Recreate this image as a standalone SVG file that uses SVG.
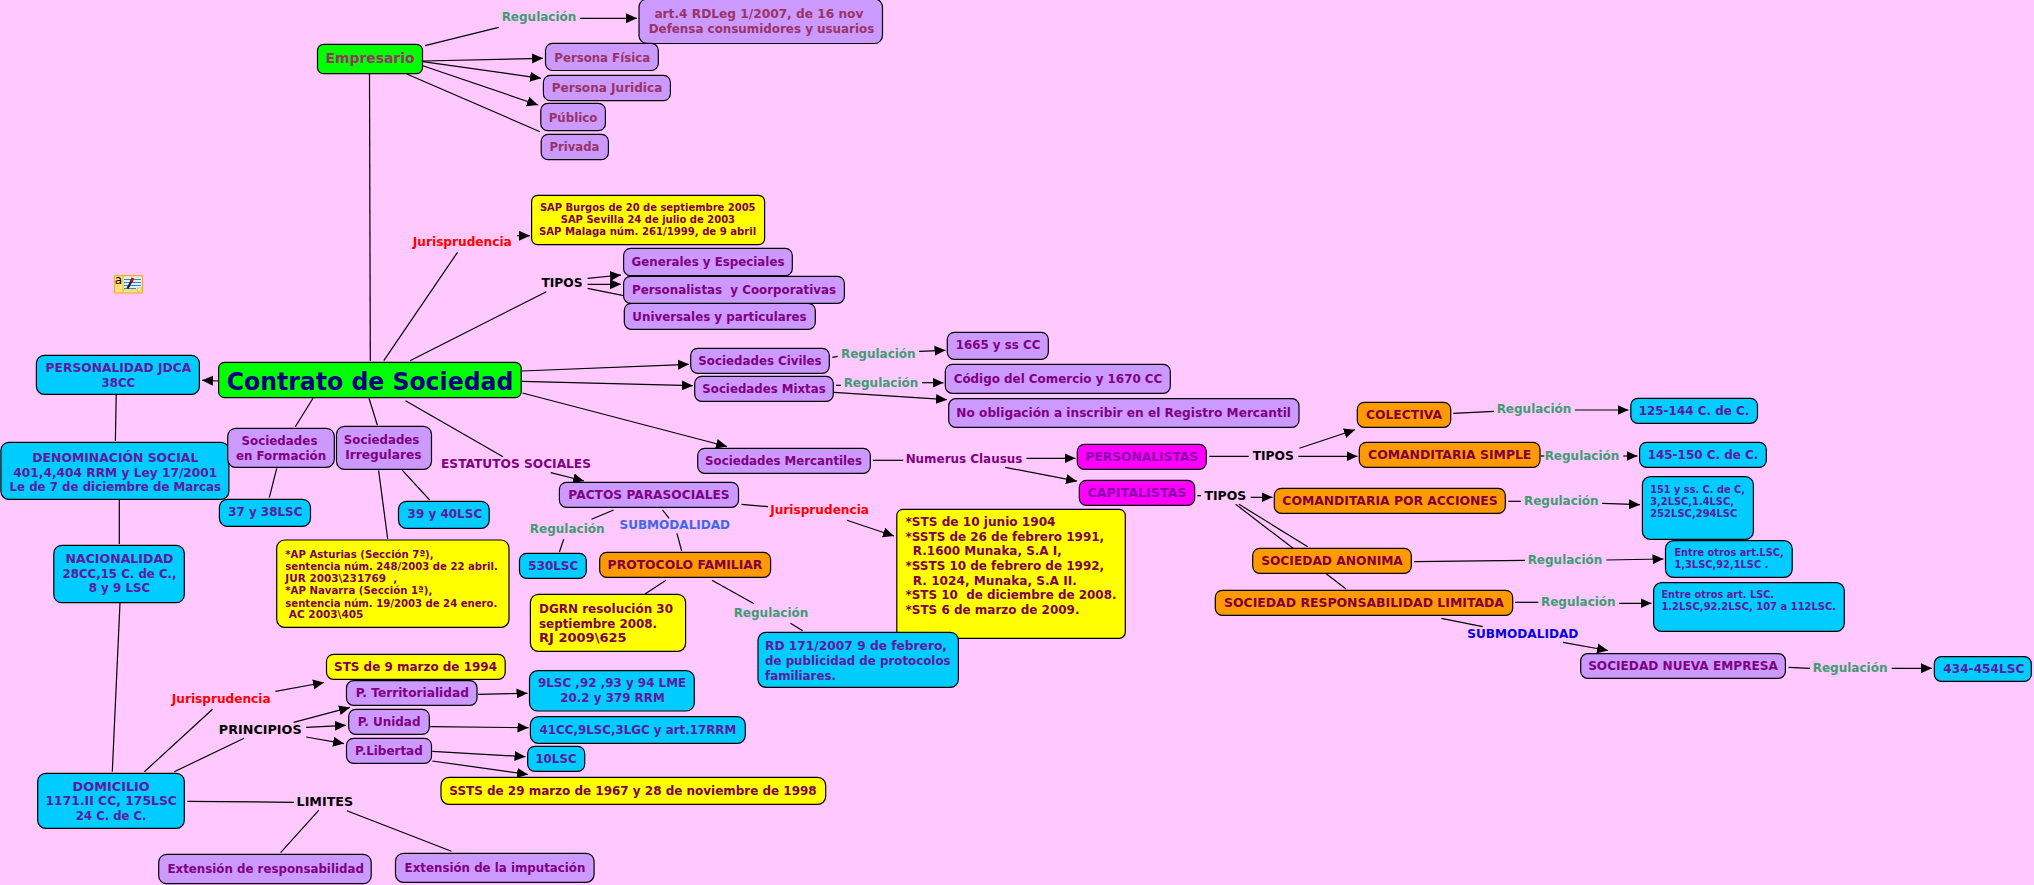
<svg xmlns="http://www.w3.org/2000/svg" width="2034" height="885" viewBox="0 0 2034 885">
<style>
text{font-family:"DejaVu Sans","Liberation Sans",sans-serif;font-weight:bold;font-size:12px;text-anchor:middle}
.b{stroke:#000;stroke-width:1.2}
.pu{fill:#CC99FF}.bl{fill:#00CCFF}.ye{fill:#FFFF00}.gr{fill:#00FF00}.or{fill:#FF9900}.ma{fill:#FF00FF}
.tp{fill:#800080}.te{fill:#993366}.tb{fill:#5F1A9C}.ty{fill:#800050}.to{fill:#800040}.tm{fill:#8A00A8}
.reg{fill:#3F9B72}.jur{fill:#FF0000}.blk{fill:#000}.sub{fill:#3F66EE}.sub2{fill:#0000E6}
.l{text-anchor:start}.s{font-size:10px}
#conn line{stroke:#000;stroke-width:1.2}
#conn line.a{marker-end:url(#arr)}
</style>
<defs>
<marker id="arr" markerUnits="userSpaceOnUse" markerWidth="12" markerHeight="12" refX="11" refY="6" orient="auto"><path d="M0,1 L11,6 L0,11 z" fill="#000"/></marker>
</defs>
<rect width="2034" height="885" fill="#FFC9FF"/>
<g id="conn">
<line x1="425" y1="45.7" x2="498.7" y2="27.3"/>
<line class="a" x1="580" y1="18.3" x2="637" y2="18.3"/>
<line class="a" x1="422.8" y1="61" x2="543" y2="58.3"/>
<line class="a" x1="422.8" y1="61.7" x2="541" y2="78.3"/>
<line class="a" x1="422.8" y1="65.7" x2="538" y2="105"/>
<line x1="406.8" y1="74" x2="540" y2="131.7"/>
<line x1="369.5" y1="74" x2="370.3" y2="361"/>
<line x1="383.8" y1="360.7" x2="457.5" y2="252.3"/>
<line class="a" x1="517" y1="235.7" x2="530" y2="235.7"/>
<line x1="410" y1="360.7" x2="546.4" y2="291.7"/>
<line class="a" x1="587.6" y1="278.3" x2="621" y2="275"/>
<line class="a" x1="587.6" y1="284.3" x2="621" y2="284.3"/>
<line x1="587.6" y1="288.3" x2="623.6" y2="295.7"/>
<line class="a" x1="218.6" y1="381" x2="202" y2="380.3"/>
<line x1="116.2" y1="395" x2="115.4" y2="441"/>
<line x1="313" y1="398.3" x2="295.3" y2="426.7"/>
<line x1="369" y1="398.3" x2="377.3" y2="425"/>
<line x1="405.5" y1="400.7" x2="503" y2="456.7"/>
<line class="a" x1="550.7" y1="472.7" x2="584" y2="481"/>
<line x1="276.7" y1="468.3" x2="269.3" y2="497.7"/>
<line x1="402.4" y1="470.3" x2="429.7" y2="500"/>
<line x1="378.6" y1="470.3" x2="387.7" y2="539"/>
<line x1="119.3" y1="500" x2="119.3" y2="544"/>
<line x1="120" y1="602.7" x2="112.3" y2="771.7"/>
<line x1="144.4" y1="771.7" x2="212.5" y2="709.3"/>
<line class="a" x1="275.4" y1="691.3" x2="324" y2="682.5"/>
<line x1="174.3" y1="771.7" x2="244.1" y2="738.3"/>
<line class="a" x1="293.6" y1="722.3" x2="350" y2="707.4"/>
<line class="a" x1="306.2" y1="727.3" x2="346" y2="725.3"/>
<line class="a" x1="306.2" y1="737" x2="344" y2="743.6"/>
<line class="a" x1="477.9" y1="694.3" x2="527.5" y2="693.3"/>
<line class="a" x1="430.2" y1="726.7" x2="528.5" y2="727.7"/>
<line class="a" x1="432.3" y1="751.3" x2="525.5" y2="756.7"/>
<line class="a" x1="432.3" y1="761" x2="528" y2="774.5"/>
<line x1="187.3" y1="801.3" x2="294" y2="802.3"/>
<line x1="318.7" y1="810.3" x2="280.6" y2="852.7"/>
<line x1="346.9" y1="810.7" x2="451.4" y2="851.3"/>
<line class="a" x1="522.5" y1="393" x2="727" y2="446.5"/>
<line x1="873" y1="460.3" x2="903.3" y2="460.3"/>
<line class="a" x1="1026.4" y1="458.3" x2="1075.5" y2="458.3"/>
<line class="a" x1="1005.2" y1="467.3" x2="1077" y2="481.2"/>
<line x1="741.5" y1="504.3" x2="768" y2="506.7"/>
<line class="a" x1="846.9" y1="520.3" x2="894" y2="536"/>
<line x1="613.6" y1="510" x2="591.5" y2="519.3"/>
<line x1="563.7" y1="539.3" x2="559.4" y2="552"/>
<line x1="662.6" y1="510" x2="669.1" y2="518.3"/>
<line x1="676.9" y1="533.3" x2="681.7" y2="551"/>
<line x1="666" y1="580.3" x2="645" y2="594"/>
<line x1="712" y1="580.3" x2="754.1" y2="603.7"/>
<line x1="790.5" y1="623.3" x2="802.7" y2="630.7"/>
<line class="a" x1="521.7" y1="371" x2="689" y2="364.3"/>
<line class="a" x1="521.7" y1="381.3" x2="693" y2="385.7"/>
<line x1="832.3" y1="357.3" x2="837.7" y2="356.3"/>
<line class="a" x1="919" y1="351.3" x2="945.5" y2="350.3"/>
<line x1="836" y1="385.3" x2="841" y2="385.3"/>
<line class="a" x1="922" y1="382.7" x2="943.5" y2="382.7"/>
<line class="a" x1="834" y1="392.3" x2="947" y2="399.7"/>
<line x1="1209.3" y1="456.3" x2="1248.7" y2="456.3"/>
<line class="a" x1="1299.3" y1="448.3" x2="1355" y2="429.7"/>
<line class="a" x1="1298.3" y1="456.3" x2="1357.5" y2="456.3"/>
<line x1="1197.3" y1="495.7" x2="1201" y2="495.7"/>
<line class="a" x1="1250.7" y1="497.3" x2="1272.5" y2="497.3"/>
<line x1="1239" y1="504.3" x2="1307.7" y2="546.7"/>
<line x1="1235.7" y1="504.3" x2="1345.7" y2="588.7"/>
<line x1="1508.3" y1="501.3" x2="1521" y2="501.3"/>
<line x1="1453.3" y1="413.3" x2="1494" y2="411.3"/>
<line x1="1414" y1="561.7" x2="1525" y2="560.3"/>
<line x1="1515" y1="602.3" x2="1538.3" y2="602.3"/>
<line x1="1441.3" y1="618.3" x2="1482.7" y2="626.7"/>
<line class="a" x1="1574.9" y1="410" x2="1628.5" y2="410"/>
<line x1="1540.5" y1="456" x2="1544.3" y2="456"/>
<line class="a" x1="1623.3" y1="456" x2="1637.5" y2="456"/>
<line class="a" x1="1602.2" y1="503.3" x2="1640" y2="504.7"/>
<line class="a" x1="1606.3" y1="560" x2="1663.5" y2="559"/>
<line class="a" x1="1619.2" y1="603.3" x2="1651.5" y2="603.3"/>
<line class="a" x1="1563" y1="642.3" x2="1608" y2="650.5"/>
<line x1="1788.5" y1="667.3" x2="1810" y2="668.3"/>
<line class="a" x1="1891.7" y1="668.3" x2="1932" y2="668.3"/>
</g>
<g id="icon">
<rect x="114.5" y="275.5" width="28" height="17.5" rx="1" fill="#FFDF80" stroke="#F2AE20" stroke-width="1.2"/>
<rect x="123.5" y="277" width="18" height="12" fill="#DDF0FF"/>
<path d="M137.5,293 L142.5,288 L137.5,288 z" fill="#FFF6C8" stroke="#F2AE20" stroke-width=".8"/>
<path d="M123,276 V292.5" stroke="#F2AE20" stroke-width=".8"/>
<path d="M124,279.5 H141 M124,282.5 H141 M124,285.5 H141 M124,288.5 H136" stroke="#2F86C8" stroke-width="1"/>
<path d="M127.5,288.5 L131.5,281" stroke="#222" stroke-width="2.2"/>
<path d="M131,282 L133,278" stroke="#B01515" stroke-width="3"/>
<text x="118.5" y="283.5" style="font-size:12px;font-weight:normal;fill:#000">a</text>
</g>
<g id="n-empresario"><rect class="b gr" x="317.5" y="44.3" width="105" height="29.4" rx="6"/><text class="te" x="370" y="62.5" style="font-size:14px" textLength="89" lengthAdjust="spacingAndGlyphs">Empresario</text></g>
<g id="n-reg0"><text class="reg" x="539" y="21">Regulación</text></g>
<g id="n-art4"><rect class="b pu" x="639" y="-1" width="243.5" height="44.5" rx="8"/><text class="te" x="758.9" y="18.3" textLength="209" lengthAdjust="spacingAndGlyphs">art.4 RDLeg 1/2007, de 16 nov</text><text class="te" x="761.5" y="33" textLength="225.6" lengthAdjust="spacingAndGlyphs">Defensa consumidores y usuarios</text></g>
<g id="n-fisica"><rect class="b pu" x="545.5" y="43.3" width="112.8" height="27.2" rx="7"/><text class="te" x="602.2" y="61.7" textLength="95.8" lengthAdjust="spacingAndGlyphs">Persona Física</text></g>
<g id="n-juridica"><rect class="b pu" x="543.4" y="75.3" width="127" height="25.4" rx="7"/><text class="te" x="607" y="92" textLength="110.6" lengthAdjust="spacingAndGlyphs">Persona Juridica</text></g>
<g id="n-publico"><rect class="b pu" x="540.8" y="103.3" width="64.6" height="27.4" rx="7"/><text class="te" x="573" y="121.5" textLength="48.6" lengthAdjust="spacingAndGlyphs">Público</text></g>
<g id="n-privada"><rect class="b pu" x="541.2" y="134.3" width="67.2" height="25.4" rx="7"/><text class="te" x="574.4" y="151" textLength="49.9" lengthAdjust="spacingAndGlyphs">Privada</text></g>
<g id="n-jur1"><text class="jur" x="462.3" y="246" textLength="98.9" lengthAdjust="spacingAndGlyphs">Jurisprudencia</text></g>
<g id="n-sap"><rect class="b ye" x="531.6" y="195.3" width="233" height="49.4" rx="6"/><text class="ty s" x="647.7" y="210.5" textLength="215.6" lengthAdjust="spacingAndGlyphs">SAP Burgos de 20 de septiembre 2005</text><text class="ty s" x="647.9" y="222.7" textLength="174.4" lengthAdjust="spacingAndGlyphs">SAP Sevilla 24 de julio de 2003</text><text class="ty s" x="647.6" y="234.8" textLength="217.3" lengthAdjust="spacingAndGlyphs">SAP Malaga núm. 261/1999, de 9 abril</text></g>
<g id="n-tipos1"><text class="blk" x="562" y="287" textLength="41.2" lengthAdjust="spacingAndGlyphs">TIPOS</text></g>
<g id="n-generales"><rect class="b pu" x="623.6" y="248.3" width="168.7" height="27.4" rx="7"/><text class="tp" x="708" y="265.5" textLength="153" lengthAdjust="spacingAndGlyphs">Generales y Especiales</text></g>
<g id="n-universales"><rect class="b pu" x="624.3" y="303.3" width="191" height="26" rx="7"/><text class="tp" x="719.5" y="320.5" textLength="174.3" lengthAdjust="spacingAndGlyphs">Universales y particulares</text></g>
<g id="n-personalistasc"><rect class="b pu" x="623.6" y="276.3" width="220.8" height="27" rx="7"/><text class="tp" x="734" y="293.5" xml:space="preserve" textLength="204" lengthAdjust="spacingAndGlyphs">Personalistas  y Coorporativas</text></g>
<g id="n-contrato"><rect class="b gr" x="218.6" y="362.3" width="302.6" height="35.4" rx="6"/><text x="370" y="389.5" style="font-size:24px;fill:#000080" textLength="286.6" lengthAdjust="spacingAndGlyphs">Contrato de Sociedad</text></g>
<g id="n-personalidad"><rect class="b bl" x="36.4" y="355.3" width="163" height="39" rx="8"/><text class="tb" x="118.4" y="372" textLength="145.7" lengthAdjust="spacingAndGlyphs">PERSONALIDAD JDCA</text><text class="tb" x="118.4" y="386.5" textLength="33.8" lengthAdjust="spacingAndGlyphs">38CC</text></g>
<g id="n-denominacion"><rect class="b bl" x="0.9" y="442.3" width="228" height="57" rx="8"/><text class="tb" x="115.3" y="462" textLength="166" lengthAdjust="spacingAndGlyphs">DENOMINACIÓN SOCIAL</text><text class="tb" x="115.3" y="476.7" textLength="204" lengthAdjust="spacingAndGlyphs">401,4,404 RRM y Ley 17/2001</text><text class="tb" x="115.3" y="491.3" textLength="211.6" lengthAdjust="spacingAndGlyphs">Le de 7 de diciembre de Marcas</text></g>
<g id="n-nacionalidad"><rect class="b bl" x="53.8" y="545.3" width="130.5" height="57.4" rx="8"/><text class="tb" x="119.5" y="563" textLength="108" lengthAdjust="spacingAndGlyphs">NACIONALIDAD</text><text class="tb" x="119.5" y="577.7" textLength="114" lengthAdjust="spacingAndGlyphs">28CC,15 C. de C.,</text><text class="tb" x="119.5" y="592.3" textLength="61.6" lengthAdjust="spacingAndGlyphs">8 y 9 LSC</text></g>
<g id="n-domicilio"><rect class="b bl" x="37.7" y="773.3" width="146.6" height="55" rx="8"/><text class="tb" x="111.2" y="790.5" textLength="77.2" lengthAdjust="spacingAndGlyphs">DOMICILIO</text><text class="tb" x="111.2" y="805.2" textLength="131.4" lengthAdjust="spacingAndGlyphs">1171.II CC, 175LSC</text><text class="tb" x="111.2" y="820" textLength="70.7" lengthAdjust="spacingAndGlyphs">24 C. de C.</text></g>
<g id="n-formacion"><rect class="b pu" x="227.7" y="428.3" width="106.6" height="39" rx="8"/><text class="tp" x="279.5" y="445" textLength="75.9" lengthAdjust="spacingAndGlyphs">Sociedades</text><text class="tp" x="281" y="459.5" textLength="90.2" lengthAdjust="spacingAndGlyphs">en Formación</text></g>
<g id="n-irregulares"><rect class="b pu" x="336.5" y="426.3" width="95" height="43" rx="8"/><text class="tp" x="381.6" y="444" textLength="75.5" lengthAdjust="spacingAndGlyphs">Sociedades</text><text class="tp" x="383.4" y="458.7" textLength="76.3" lengthAdjust="spacingAndGlyphs">Irregulares</text></g>
<g id="n-37"><rect class="b bl" x="219.4" y="499.3" width="91.1" height="27" rx="8"/><text class="tb" x="265.3" y="516" textLength="74.2" lengthAdjust="spacingAndGlyphs">37 y 38LSC</text></g>
<g id="n-39"><rect class="b bl" x="398.5" y="501.3" width="90.7" height="27" rx="8"/><text class="tb" x="444.9" y="518" textLength="74.6" lengthAdjust="spacingAndGlyphs">39 y 40LSC</text></g>
<g id="n-ap"><rect class="b ye" x="276.7" y="540" width="232.3" height="87.3" rx="8"/><text class="ty s l" x="285.3" y="557.5" textLength="148.3" lengthAdjust="spacingAndGlyphs">*AP Asturias (Sección 7ª),</text><text class="ty s l" x="285.3" y="569.7" textLength="212.5" lengthAdjust="spacingAndGlyphs">sentencia núm. 248/2003 de 22 abril.</text><text class="ty s l" x="285.3" y="582" xml:space="preserve" textLength="112" lengthAdjust="spacingAndGlyphs">JUR 2003\231769  ,</text><text class="ty s l" x="285.3" y="594" textLength="147" lengthAdjust="spacingAndGlyphs">*AP Navarra (Sección 1ª),</text><text class="ty s l" x="285.3" y="606.5" textLength="212" lengthAdjust="spacingAndGlyphs">sentencia núm. 19/2003 de 24 enero.</text><text class="ty s l" x="288.8" y="618.3" textLength="74.6" lengthAdjust="spacingAndGlyphs">AC 2003\405</text></g>
<g id="n-estatutos"><text class="tp" x="516" y="468" textLength="150" lengthAdjust="spacingAndGlyphs">ESTATUTOS SOCIALES</text></g>
<g id="n-pactos"><rect class="b pu" x="559.4" y="482.3" width="179.1" height="25" rx="7"/><text class="tp" x="649" y="499" textLength="161.3" lengthAdjust="spacingAndGlyphs">PACTOS PARASOCIALES</text></g>
<g id="n-reg-pactos"><text class="reg" x="567.2" y="533">Regulación</text></g>
<g id="n-sub1"><text class="sub" x="674.8" y="529.3" textLength="110.6" lengthAdjust="spacingAndGlyphs">SUBMODALIDAD</text></g>
<g id="n-jur2"><text class="jur" x="819.6" y="514.3" textLength="98.9" lengthAdjust="spacingAndGlyphs">Jurisprudencia</text></g>
<g id="n-530"><rect class="b bl" x="519.5" y="553.3" width="66.8" height="25" rx="7"/><text class="tb" x="553.3" y="570" textLength="49.9" lengthAdjust="spacingAndGlyphs">530LSC</text></g>
<g id="n-protocolo"><rect class="b or" x="599.7" y="552.3" width="170.9" height="25" rx="7"/><text class="to" x="685" y="569" textLength="154.8" lengthAdjust="spacingAndGlyphs">PROTOCOLO FAMILIAR</text></g>
<g id="n-dgrn"><rect class="b ye" x="530.4" y="594.3" width="155.2" height="57" rx="8"/><text class="ty l" x="539" y="613" textLength="134" lengthAdjust="spacingAndGlyphs">DGRN resolución 30</text><text class="ty l" x="539" y="627.6" textLength="118" lengthAdjust="spacingAndGlyphs">septiembre 2008.</text><text class="ty l" x="539" y="642.3" textLength="87.6" lengthAdjust="spacingAndGlyphs">RJ 2009\625</text></g>
<g id="n-reg-prot"><text class="reg" x="771" y="617">Regulación</text></g>
<g id="n-sts"><rect class="b ye" x="896.8" y="509.3" width="228.5" height="129" rx="6"/><text class="ty l" x="905.5" y="526" textLength="150" lengthAdjust="spacingAndGlyphs">*STS de 10 junio 1904</text><text class="ty l" x="905.5" y="540.6" textLength="198.6" lengthAdjust="spacingAndGlyphs">*SSTS de 26 de febrero 1991,</text><text class="ty l" x="912.8" y="555.3" textLength="149" lengthAdjust="spacingAndGlyphs">R.1600 Munaka, S.A I,</text><text class="ty l" x="905.5" y="570" textLength="198.6" lengthAdjust="spacingAndGlyphs">*SSTS 10 de febrero de 1992,</text><text class="ty l" x="912.8" y="584.6" textLength="164" lengthAdjust="spacingAndGlyphs">R. 1024, Munaka, S.A II.</text><text class="ty l" x="905.5" y="599.3" xml:space="preserve" textLength="211" lengthAdjust="spacingAndGlyphs">*STS 10  de diciembre de 2008.</text><text class="ty l" x="905.5" y="614" textLength="174" lengthAdjust="spacingAndGlyphs">*STS 6 de marzo de 2009.</text></g>
<g id="n-rd"><rect class="b bl" x="758" y="632.3" width="200.4" height="55" rx="8"/><text class="tb l" x="765" y="650.3" textLength="182" lengthAdjust="spacingAndGlyphs">RD 171/2007 9 de febrero,</text><text class="tb l" x="765" y="665" textLength="185.6" lengthAdjust="spacingAndGlyphs">de publicidad de protocolos</text><text class="tb l" x="765" y="679.6" textLength="71" lengthAdjust="spacingAndGlyphs">familiares.</text></g>
<g id="n-jur3"><text class="jur" x="221.2" y="703.3" textLength="98.9" lengthAdjust="spacingAndGlyphs">Jurisprudencia</text></g>
<g id="n-principios"><text class="blk" x="260.2" y="734" textLength="82.8" lengthAdjust="spacingAndGlyphs">PRINCIPIOS</text></g>
<g id="n-limites"><text class="blk" x="324.8" y="806" textLength="56.4" lengthAdjust="spacingAndGlyphs">LIMITES</text></g>
<g id="n-sts94"><rect class="b ye" x="326.5" y="654.3" width="178.7" height="25" rx="7"/><text class="ty" x="415.5" y="671" textLength="163" lengthAdjust="spacingAndGlyphs">STS de 9 marzo de 1994</text></g>
<g id="n-terr"><rect class="b pu" x="346.5" y="680.7" width="130.5" height="24.6" rx="7"/><text class="tp" x="412.3" y="697" textLength="113.2" lengthAdjust="spacingAndGlyphs">P. Territorialidad</text></g>
<g id="n-unidad"><rect class="b pu" x="348.7" y="709.3" width="80.6" height="25" rx="7"/><text class="tp" x="389.1" y="726" textLength="62.9" lengthAdjust="spacingAndGlyphs">P. Unidad</text></g>
<g id="n-libertad"><rect class="b pu" x="346.5" y="738.3" width="85" height="25" rx="7"/><text class="tp" x="388.9" y="755" textLength="67.6" lengthAdjust="spacingAndGlyphs">P.Libertad</text></g>
<g id="n-9lsc"><rect class="b bl" x="529.5" y="670.7" width="164.8" height="40.3" rx="8"/><text class="tb" x="612.1" y="687" textLength="148.3" lengthAdjust="spacingAndGlyphs">9LSC ,92 ,93 y 94 LME</text><text class="tb" x="612.5" y="701.5" textLength="104.5" lengthAdjust="spacingAndGlyphs">20.2 y 379 RRM</text></g>
<g id="n-41cc"><rect class="b bl" x="530.4" y="716.7" width="214.9" height="26.6" rx="8"/><text class="tb" x="637.9" y="733.5" textLength="196.8" lengthAdjust="spacingAndGlyphs">41CC,9LSC,3LGC y art.17RRM</text></g>
<g id="n-10lsc"><rect class="b bl" x="527.7" y="746.3" width="57" height="25" rx="7"/><text class="tb" x="556" y="763" textLength="41.2" lengthAdjust="spacingAndGlyphs">10LSC</text></g>
<g id="n-ssts"><rect class="b ye" x="441" y="777.3" width="384.7" height="27" rx="8"/><text class="ty" x="633" y="794.5" textLength="367.4" lengthAdjust="spacingAndGlyphs">SSTS de 29 marzo de 1967 y 28 de noviembre de 1998</text></g>
<g id="n-extresp"><rect class="b pu" x="158.7" y="854.3" width="212.5" height="29.4" rx="8"/><text class="tp" x="265.7" y="873" textLength="196.4" lengthAdjust="spacingAndGlyphs">Extensión de responsabilidad</text></g>
<g id="n-extimp"><rect class="b pu" x="395.5" y="853.3" width="198.6" height="29" rx="8"/><text class="tp" x="495" y="872" textLength="180.8" lengthAdjust="spacingAndGlyphs">Extensión de la imputación</text></g>
<g id="n-civiles"><rect class="b pu" x="690.7" y="348.3" width="138.6" height="25" rx="7"/><text class="tp" x="760" y="365" textLength="123.3" lengthAdjust="spacingAndGlyphs">Sociedades Civiles</text></g>
<g id="n-mixtas"><rect class="b pu" x="694.7" y="376.3" width="138.6" height="25" rx="7"/><text class="tp" x="764" y="393" textLength="123.3" lengthAdjust="spacingAndGlyphs">Sociedades Mixtas</text></g>
<g id="n-reg1"><text class="reg" x="878.3" y="358">Regulación</text></g>
<g id="n-reg2"><text class="reg" x="881" y="387">Regulación</text></g>
<g id="n-1665"><rect class="b pu" x="947.3" y="332.3" width="101" height="27" rx="7"/><text class="tp" x="998" y="349" textLength="84.7" lengthAdjust="spacingAndGlyphs">1665 y ss CC</text></g>
<g id="n-codigo"><rect class="b pu" x="945.3" y="364.3" width="225" height="29" rx="7"/><text class="tp" x="1058" y="383" textLength="208.7" lengthAdjust="spacingAndGlyphs">Código del Comercio y 1670 CC</text></g>
<g id="n-noobl"><rect class="b pu" x="948.7" y="398.7" width="350.3" height="28.6" rx="7"/><text class="tp" x="1123.7" y="417" textLength="334.7" lengthAdjust="spacingAndGlyphs">No obligación a inscribir en el Registro Mercantil</text></g>
<g id="n-mercantiles"><rect class="b pu" x="697.7" y="448.3" width="172.6" height="25" rx="7"/><text class="tp" x="783.6" y="465" textLength="157" lengthAdjust="spacingAndGlyphs">Sociedades Mercantiles</text></g>
<g id="n-numerus"><text class="tp" x="964" y="463.3" textLength="116.7" lengthAdjust="spacingAndGlyphs">Numerus Clausus</text></g>
<g id="n-pers"><rect class="b ma" x="1077.3" y="444.3" width="129" height="25" rx="7"/><text class="tm" x="1141.8" y="461" textLength="112.7" lengthAdjust="spacingAndGlyphs">PERSONALISTAS</text></g>
<g id="n-cap"><rect class="b ma" x="1079.3" y="480.3" width="115.4" height="25" rx="7"/><text class="tm" x="1137" y="497" textLength="99" lengthAdjust="spacingAndGlyphs">CAPITALISTAS</text></g>
<g id="n-tipos2"><text class="blk" x="1273.3" y="460" textLength="41.3" lengthAdjust="spacingAndGlyphs">TIPOS</text></g>
<g id="n-tipos3"><text class="blk" x="1225.3" y="500" textLength="41.7" lengthAdjust="spacingAndGlyphs">TIPOS</text></g>
<g id="n-colectiva"><rect class="b or" x="1357.3" y="402.3" width="93.4" height="25" rx="7"/><text class="to" x="1404" y="419" textLength="76" lengthAdjust="spacingAndGlyphs">COLECTIVA</text></g>
<g id="n-simple"><rect class="b or" x="1359.3" y="442.3" width="180.7" height="25" rx="7"/><text class="to" x="1449.7" y="459" textLength="163.3" lengthAdjust="spacingAndGlyphs">COMANDITARIA SIMPLE</text></g>
<g id="n-acciones"><rect class="b or" x="1274.3" y="488.3" width="231" height="25" rx="7"/><text class="to" x="1390" y="505" textLength="215.3" lengthAdjust="spacingAndGlyphs">COMANDITARIA POR ACCIONES</text></g>
<g id="n-anonima"><rect class="b or" x="1252.7" y="548.3" width="158.6" height="25" rx="7"/><text class="to" x="1332" y="565" textLength="141.7" lengthAdjust="spacingAndGlyphs">SOCIEDAD ANONIMA</text></g>
<g id="n-srl"><rect class="b or" x="1215.3" y="590.3" width="297.4" height="25" rx="7"/><text class="to" x="1364" y="607" textLength="280" lengthAdjust="spacingAndGlyphs">SOCIEDAD RESPONSABILIDAD LIMITADA</text></g>
<g id="n-reg3"><text class="reg" x="1534" y="413">Regulación</text></g>
<g id="n-reg4"><text class="reg" x="1582" y="460">Regulación</text></g>
<g id="n-reg5"><text class="reg" x="1561.3" y="505">Regulación</text></g>
<g id="n-reg6"><text class="reg" x="1565" y="564">Regulación</text></g>
<g id="n-reg7"><text class="reg" x="1578.3" y="606">Regulación</text></g>
<g id="n-sub2"><text class="sub2" x="1522.8" y="638" textLength="111" lengthAdjust="spacingAndGlyphs">SUBMODALIDAD</text></g>
<g id="n-125"><rect class="b bl" x="1630.8" y="398.3" width="126.7" height="25" rx="7"/><text class="tb" x="1694" y="415" textLength="110.7" lengthAdjust="spacingAndGlyphs">125-144 C. de C.</text></g>
<g id="n-145"><rect class="b bl" x="1639.6" y="442.3" width="126.7" height="25" rx="7"/><text class="tb" x="1703" y="459" textLength="110.7" lengthAdjust="spacingAndGlyphs">145-150 C. de C.</text></g>
<g id="n-151"><rect class="b bl" x="1642.4" y="476.7" width="111" height="62.6" rx="8"/><text class="tb s l" x="1650.2" y="493" textLength="94.7" lengthAdjust="spacingAndGlyphs">151 y ss. C. de C,</text><text class="tb s l" x="1650.2" y="505.3" textLength="83.8" lengthAdjust="spacingAndGlyphs">3,2LSC,1.4LSC,</text><text class="tb s l" x="1650.2" y="517.3" textLength="87.2" lengthAdjust="spacingAndGlyphs">252LSC,294LSC</text></g>
<g id="n-entre1"><rect class="b bl" x="1665.5" y="540.7" width="126.7" height="36.6" rx="8"/><text class="tb s l" x="1674.4" y="556" textLength="109.3" lengthAdjust="spacingAndGlyphs">Entre otros art.LSC,</text><text class="tb s l" x="1674.4" y="568" textLength="94" lengthAdjust="spacingAndGlyphs">1,3LSC,92,1LSC .</text></g>
<g id="n-entre2"><rect class="b bl" x="1653.6" y="582.7" width="190.7" height="48.6" rx="8"/><text class="tb s l" x="1661.4" y="597.7" textLength="112.7" lengthAdjust="spacingAndGlyphs">Entre otros art. LSC.</text><text class="tb s l" x="1661.4" y="610" textLength="174.7" lengthAdjust="spacingAndGlyphs">1.2LSC,92.2LSC, 107 a 112LSC.</text></g>
<g id="n-nueva"><rect class="b pu" x="1580.7" y="653.7" width="204.7" height="24.6" rx="7"/><text class="tp" x="1683" y="670" textLength="189.7" lengthAdjust="spacingAndGlyphs">SOCIEDAD NUEVA EMPRESA</text></g>
<g id="n-reg8"><text class="reg" x="1850.1" y="672">Regulación</text></g>
<g id="n-434"><rect class="b bl" x="1934.3" y="656.7" width="97" height="24.6" rx="7"/><text class="tb" x="1983.8" y="673" textLength="81" lengthAdjust="spacingAndGlyphs">434-454LSC</text></g>
</svg>
